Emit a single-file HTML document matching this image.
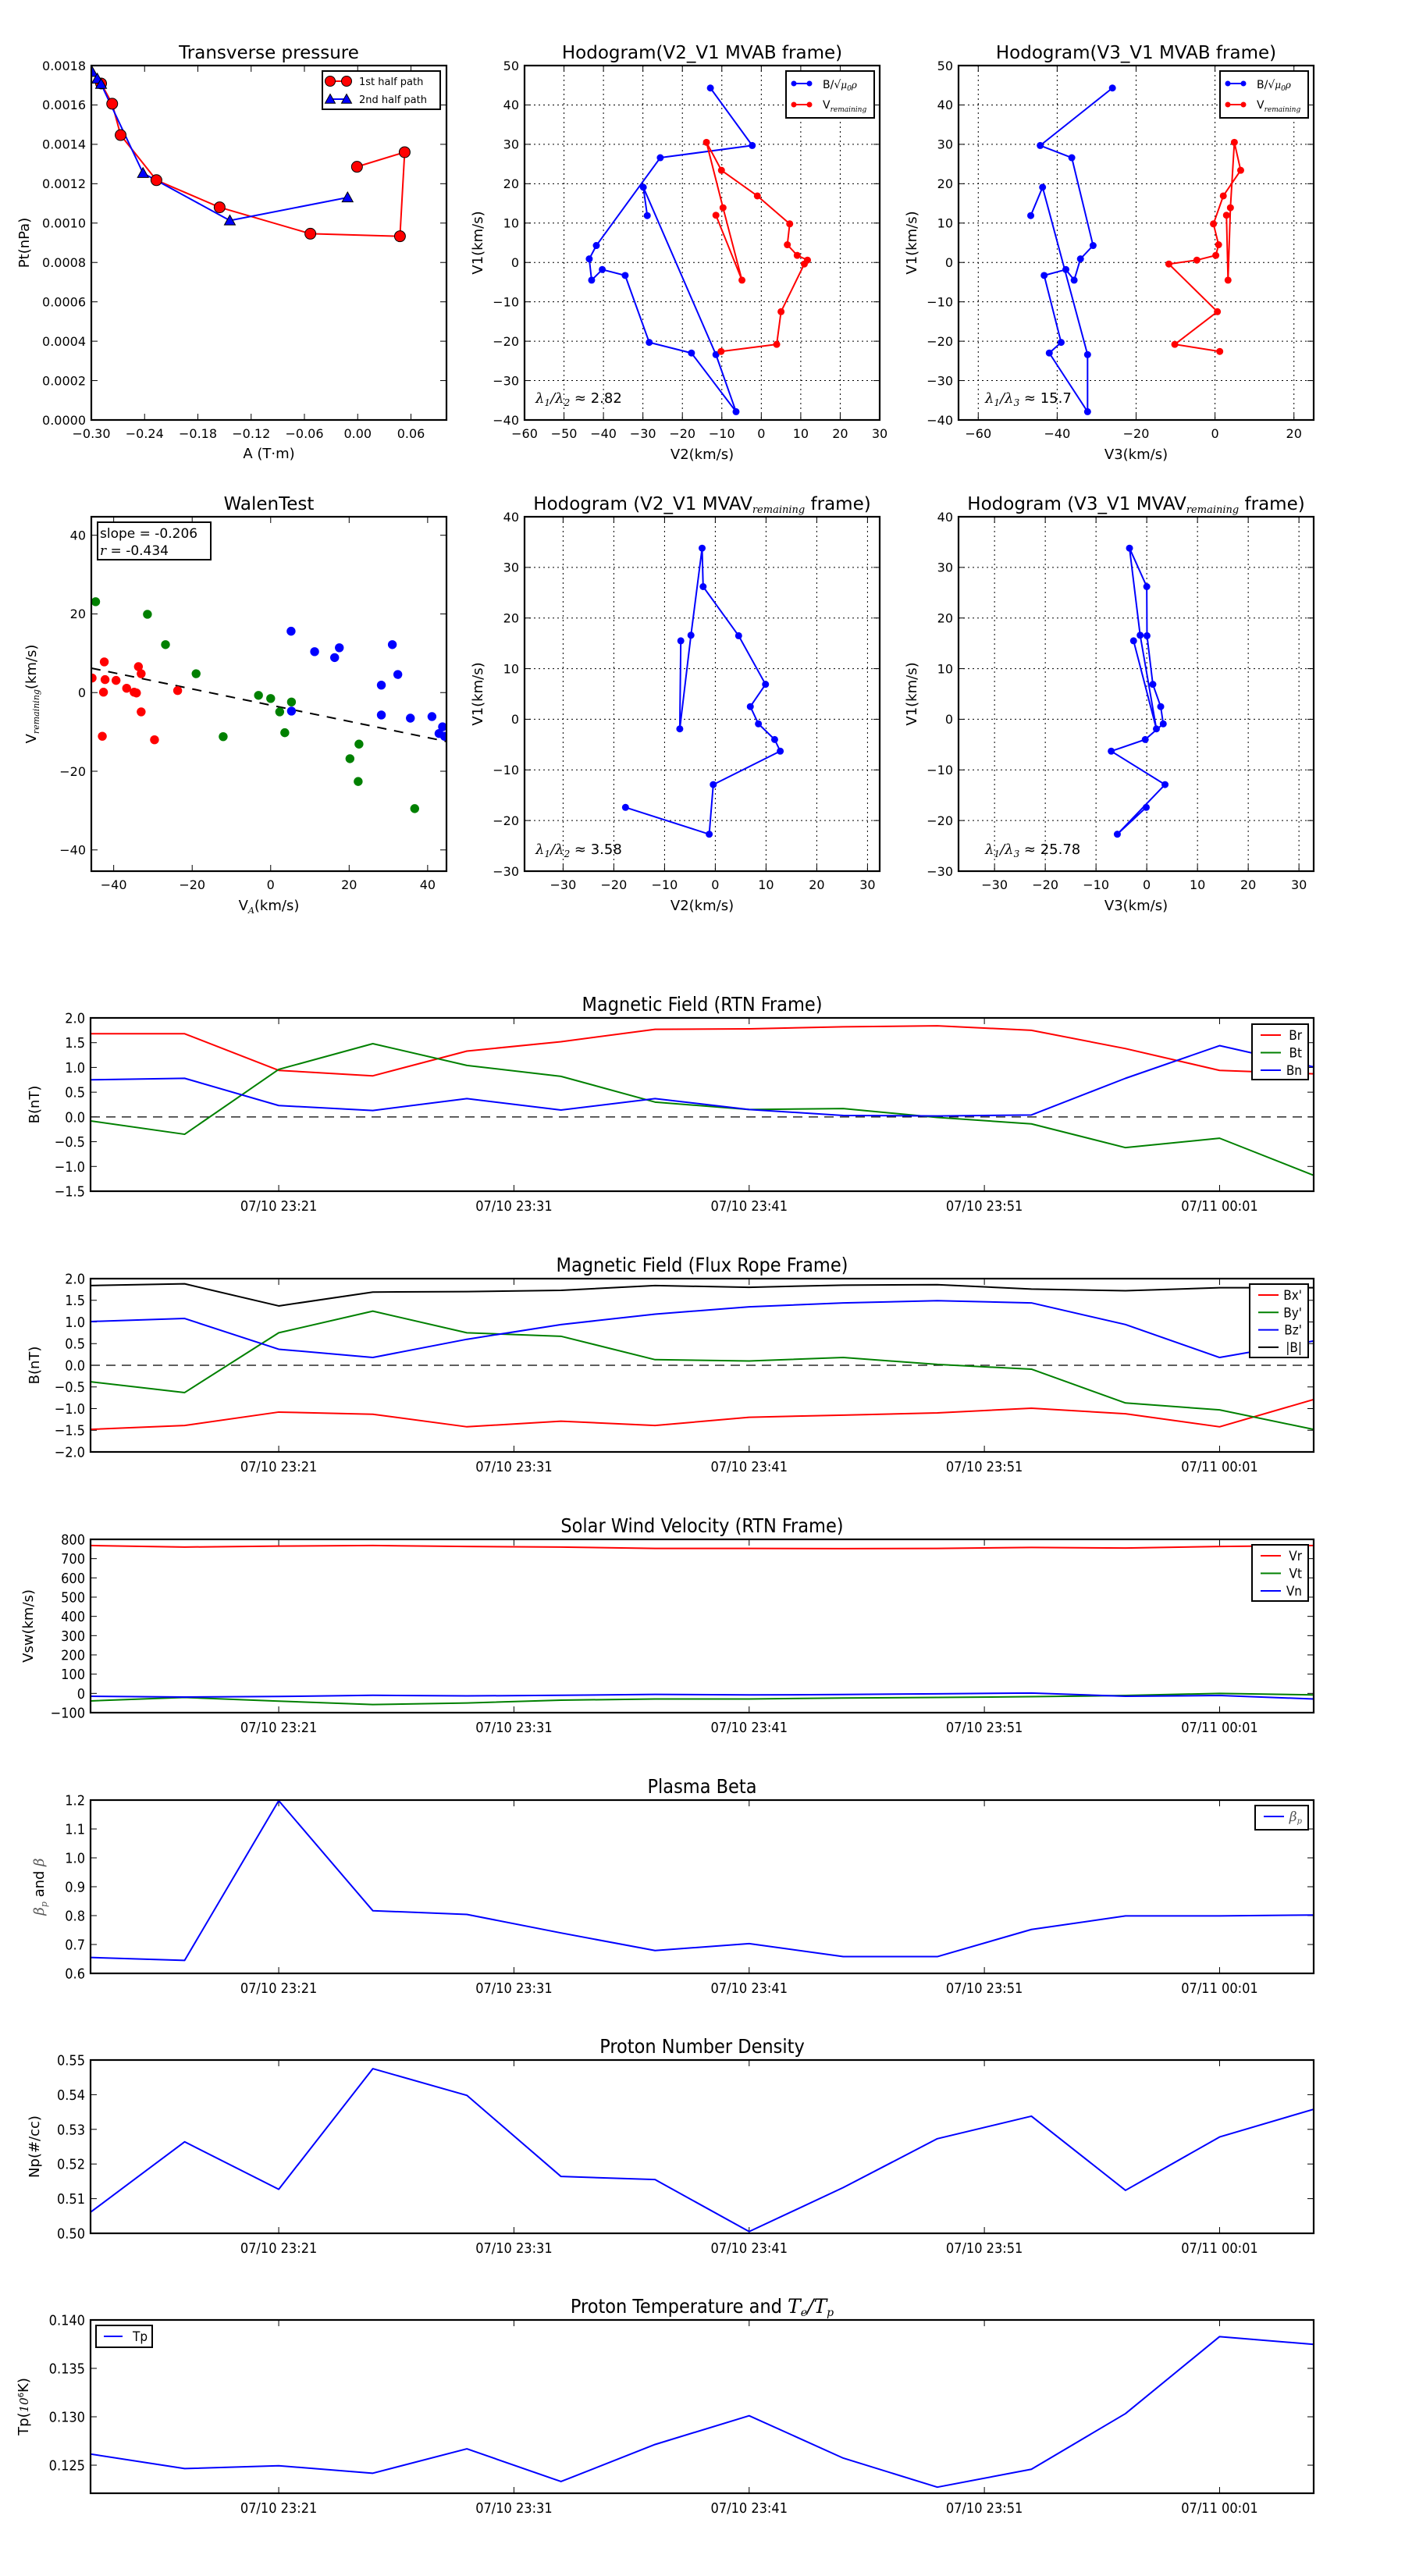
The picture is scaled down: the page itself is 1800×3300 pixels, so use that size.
<!DOCTYPE html>
<html><head><meta charset="utf-8"><title>Flux rope analysis</title>
<style>
html,body{margin:0;padding:0;background:#fff;}
svg{display:block;}
text{font-family:"DejaVu Sans","Liberation Sans",sans-serif;fill:#000;}
.cond{font-family:"DejaVu Sans Condensed","DejaVu Sans","Liberation Sans",sans-serif;}
.math{font-family:"DejaVu Serif","Liberation Serif",serif;font-style:italic;}
</style></head>
<body>
<svg id="fig" xmlns="http://www.w3.org/2000/svg" width="1800" height="3300" viewBox="0 0 1800 3300">
<rect x="0" y="0" width="1800" height="3300" fill="#fff"></rect>
</svg>
<script>
// ---------- data ----------
const tpRedA = [-0.289,-0.2765,-0.267,-0.2267,-0.1555,-0.0533,0.0476,0.0529,-0.0008];
const tpRedP = [0.001709,0.001606,0.001447,0.001218,0.00108,0.000946,0.000933,0.00136,0.001286];
const tpBlueA = [-0.299,-0.2933,-0.289,-0.2418,-0.144,-0.0114];
const tpBlueP = [0.001767,0.001733,0.001706,0.001254,0.001013,0.00113];

const mvabBlueV1 = [44.3,29.7,26.6,4.3,0.9,-4.5,-1.8,-3.3,-20.3,-23.0,-37.9,-23.4,19.1,11.9];
const mvabBlueV2 = [-12.9,-2.3,-25.6,-41.8,-43.6,-43.0,-40.3,-34.5,-28.4,-17.7,-6.4,-11.5,-29.9,-28.9];
const mvabBlueV3 = [-26.0,-44.3,-36.3,-30.9,-34.1,-35.7,-37.8,-43.3,-39.0,-42.0,-32.3,-32.3,-43.7,-46.7];
const mvabRedV1 = [12.0,-4.5,13.9,30.5,23.4,16.9,9.8,4.5,1.8,0.6,-0.4,-12.5,-20.8,-22.6];
const mvabRedV2 = [-11.5,-4.9,-9.7,-13.9,-10.1,-1.0,7.2,6.6,9.1,11.7,10.9,5.0,3.9,-10.2];
const mvabRedV3 = [2.9,3.3,3.9,4.9,6.5,2.1,-0.4,0.9,0.2,-4.6,-11.7,0.6,-10.2,1.2];
const mvabRatio12 = "2.82";
const mvabRatio13 = "15.7";

const walRedX = [-45.5,-42.4,-42.2,-42.6,-42.9,-39.4,-36.7,-34.8,-34.2,-33.7,-33.0,-33.0,-29.6,-23.7];
const walRedY = [3.7,7.8,3.3,0.1,-11.1,3.1,1.1,0.1,-0.1,6.6,4.8,-4.9,-12.0,0.5];
const walGreenX = [-44.6,-31.4,-26.8,-19.0,-12.1,-3.1,0.0,2.3,3.6,5.3,20.2,22.5,22.3,36.7];
const walGreenY = [23.1,19.9,12.2,4.8,-11.2,-0.7,-1.5,-4.9,-10.2,-2.4,-16.8,-13.1,-22.6,-29.5];
const walBlueX = [5.2,5.3,11.2,16.3,17.5,28.2,28.2,31.0,32.4,35.6,41.1,42.9,43.8,44.3];
const walBlueY = [15.6,-4.7,10.4,8.9,11.4,1.9,-5.7,12.2,4.6,-6.5,-6.1,-10.4,-8.7,-11.1];
const walSlope = -0.206;
const walIntercept = -3.2;
const walR = -0.434;

const mvavV1 = [15.5,-1.9,16.6,33.8,26.2,16.5,6.9,2.5,-0.9,-4.0,-6.3,-12.9,-22.7,-17.4];
const mvavV2 = [-6.8,-7.0,-4.8,-2.6,-2.4,4.6,9.9,6.9,8.5,11.7,12.8,-0.4,-1.2,-17.7];
const mvavV3 = [-2.6,1.9,-1.3,-3.4,0.0,0.05,1.2,2.75,3.25,-0.3,-7.0,3.6,-5.8,-0.1];
const mvavRatio12 = "3.58";
const mvavRatio13 = "25.78";

// time in minutes after 07/10 23:13
const timeMin = [0,4,8,12,16,20,24,28,32,36,40,44,48,52];
const timeTickMin = [8,18,28,38,48];
const timeTickLabels = ["07/10 23:21","07/10 23:31","07/10 23:41","07/10 23:51","07/11 00:01"];

const br = [1.68,1.68,0.94,0.83,1.33,1.52,1.77,1.78,1.82,1.84,1.75,1.38,0.94,0.87];
const bt = [-0.08,-0.35,0.96,1.48,1.04,0.82,0.30,0.15,0.17,-0.01,-0.14,-0.62,-0.43,-1.18];
const bn = [0.75,0.78,0.23,0.13,0.37,0.14,0.37,0.15,0.03,0.02,0.04,0.78,1.44,1.01];

const bxp = [-1.48,-1.39,-1.08,-1.13,-1.42,-1.29,-1.39,-1.2,-1.15,-1.1,-0.99,-1.12,-1.42,-0.79];
const byp = [-0.38,-0.63,0.75,1.25,0.75,0.67,0.13,0.10,0.18,0.02,-0.09,-0.87,-1.03,-1.48];
const bzp = [1.01,1.08,0.37,0.18,0.60,0.94,1.18,1.35,1.44,1.49,1.44,0.94,0.18,0.56];
const bmag = [1.84,1.88,1.37,1.69,1.70,1.73,1.84,1.80,1.85,1.86,1.76,1.72,1.79,1.79];

const vr = [768,760,765,768,763,760,753,753,752,753,758,755,763,768];
const vt = [-39,-21,-40,-58,-50,-35,-29,-29,-24,-21,-17,-11,0,-8];
const vn = [-15,-19,-16,-10,-13,-10,-5,-8,-6,-2,2,-15,-11,-29];

const betaP = [0.655,0.645,1.198,0.817,0.804,0.74,0.679,0.703,0.658,0.658,0.752,0.799,0.799,0.802];
const npDens = [0.5061,0.5264,0.5127,0.5475,0.5398,0.5164,0.5155,0.5005,0.5132,0.5273,0.5338,0.5124,0.5278,0.5358];
const tpTemp = [0.12615,0.12465,0.12494,0.12417,0.12669,0.12331,0.12714,0.13011,0.12573,0.12273,0.12458,0.13033,0.13828,0.13748];

// ---------- helpers ----------
const NS = "http://www.w3.org/2000/svg";
const fig = document.getElementById("fig");
let clipId = 0;
function mk(tagName, parent, at) {
  const e = document.createElementNS(NS, tagName);
  for (const k in at) e.setAttribute(k, at[k]);
  parent.appendChild(e);
  return e;
}
function nameIt(e, name) {
  
  
}
function txt(parent, x, y, s, at, name) {
  const t = mk("text", parent, Object.assign({x: x, y: y}, at || {}));
  t.textContent = s;
  nameIt(t, name);
  return t;
}
function fmtNum(v, d) {
  const s = Math.abs(v).toFixed(d);
  return (v < -1e-12 ? "\u2212" : "") + s;
}
function range(a, b, step) {
  const out = [];
  for (let v = a; v <= b + step * 1e-6; v += step) out.push(Math.round(v / step) * step);
  return out;
}

function axes(o) {
  const g = mk("g", fig, {});
  nameIt(g, o.name);
  const sx = v => o.x0 + (v - o.xmin) / (o.xmax - o.xmin) * o.w;
  const sy = v => o.y0 + o.h - (v - o.ymin) / (o.ymax - o.ymin) * o.h;
  const cls = o.cond ? "cond" : "";
  const fs = o.fs || 16;
  if (o.grid) {
    const gg = mk("g", g, {stroke: "#000", "stroke-width": 1, "stroke-dasharray": "2,4"});
    nameIt(gg, o.name + "-grid");
    o.xt.forEach(v => { const l = mk("line", gg, {x1: sx(v), x2: sx(v), y1: o.y0, y2: o.y0 + o.h}); nameIt(l, "grid-line-x"); });
    o.yt.forEach(v => { const l = mk("line", gg, {y1: sy(v), y2: sy(v), x1: o.x0, x2: o.x0 + o.w}); nameIt(l, "grid-line-y"); });
  }
  const tg = mk("g", g, {stroke: "#000", "stroke-width": 1});
  nameIt(tg, o.name + "-ticks");
  o.xt.forEach(v => {
    const a = mk("line", tg, {x1: sx(v), x2: sx(v), y1: o.y0 + o.h, y2: o.y0 + o.h - 8}); nameIt(a, "x-tick");
    const b = mk("line", tg, {x1: sx(v), x2: sx(v), y1: o.y0, y2: o.y0 + 8}); nameIt(b, "x-tick-top");
  });
  o.yt.forEach(v => {
    const a = mk("line", tg, {y1: sy(v), y2: sy(v), x1: o.x0, x2: o.x0 + 8}); nameIt(a, "y-tick");
    const b = mk("line", tg, {y1: sy(v), y2: sy(v), x1: o.x0 + o.w, x2: o.x0 + o.w - 8}); nameIt(b, "y-tick-right");
  });
  o.xt.forEach((v, i) => txt(g, sx(v), o.y0 + o.h + fs + 7, o.xl[i], {"text-anchor": "middle", "font-size": fs, class: cls}, "x-tick-label"));
  o.yt.forEach((v, i) => txt(g, o.x0 - 7, sy(v) + fs * 0.36, o.yl[i], {"text-anchor": "end", "font-size": fs, class: cls}, "y-tick-label"));
  if (o.title) {
    const t = txt(g, o.x0 + o.w / 2, o.y0 - 9, "", {"text-anchor": "middle", "font-size": o.tfs || 23, class: cls}, "chart-title");
    o.title(t);
  }
  if (o.xlabel) {
    const t = txt(g, o.x0 + o.w / 2, o.y0 + o.h + 52, "", {"text-anchor": "middle", "font-size": 18}, "x-axis-title");
    o.xlabel(t);
  }
  if (o.ylabel) {
    const t = txt(g, 0, 0, "", {"text-anchor": "middle", "font-size": o.ylfs || 18, transform: "translate(" + o.ylx + "," + (o.y0 + o.h / 2) + ") rotate(-90)"}, "y-axis-title");
    o.ylabel(t);
  }
  const cid = "clip" + (clipId++);
  const cp = mk("clipPath", g, {id: cid});
  mk("rect", cp, {x: o.x0, y: o.y0, width: o.w, height: o.h});
  const plot = mk("g", g, {"clip-path": "url(#" + cid + ")"});
  nameIt(plot, o.name + "-plot-area");
  function finish() {
    const r = mk("rect", g, {x: o.x0, y: o.y0, width: o.w, height: o.h, fill: "none", stroke: "#000", "stroke-width": 2.2});
    nameIt(r, o.name + "-frame");
  }
  return {g, plot, sx, sy, finish};
}
function span(t, s, at) {
  const e = mk("tspan", t, at || {});
  e.textContent = s;
  return e;
}
function line(ax, xs, ys, color, name, w) {
  const pts = xs.map((x, i) => ax.sx(x).toFixed(2) + "," + ax.sy(ys[i]).toFixed(2)).join(" ");
  const p = mk("polyline", ax.plot, {points: pts, fill: "none", stroke: color, "stroke-width": w || 2, "stroke-linejoin": "round"});
  nameIt(p, name);
  return p;
}
function dots(ax, xs, ys, color, r, name, edge) {
  xs.forEach((x, i) => {
    const c = mk("circle", ax.plot, {cx: ax.sx(x), cy: ax.sy(ys[i]), r: r, fill: color, stroke: edge || color, "stroke-width": edge ? 1 : 0});
    nameIt(c, name);
  });
}
function tris(ax, xs, ys, color, s, name) {
  xs.forEach((x, i) => {
    const cx = ax.sx(x), cy = ax.sy(ys[i]);
    const p = mk("path", ax.plot, {d: "M" + cx + "," + (cy - s) + " L" + (cx + s) + "," + (cy + s * 0.8) + " L" + (cx - s) + "," + (cy + s * 0.8) + "Z", fill: color, stroke: "#000", "stroke-width": 1});
    nameIt(p, name);
  });
}
function legendBox(parent, x, y, w, h, name) {
  const g = mk("g", parent, {});
  nameIt(g, name);
  const r = mk("rect", g, {x: x, y: y, width: w, height: h, fill: "#fff", stroke: "#000", "stroke-width": 2});
  nameIt(r, "legend-frame");
  return g;
}
function legLine(g, x1, x2, y, color, name, marker, mr) {
  const l = mk("line", g, {x1: x1, x2: x2, y1: y, y2: y, stroke: color, "stroke-width": 2});
  nameIt(l, name + "-swatch");
  if (marker === "circle") {
    [x1, x2].forEach(xx => { const c = mk("circle", g, {cx: xx, cy: y, r: mr, fill: color, stroke: mr > 5 ? "#000" : color, "stroke-width": mr > 5 ? 1 : 0}); nameIt(c, name + "-marker"); });
  } else if (marker === "tri") {
    [x1, x2].forEach(xx => { const p = mk("path", g, {d: "M" + xx + "," + (y - mr) + " L" + (xx + mr) + "," + (y + mr * 0.8) + " L" + (xx - mr) + "," + (y + mr * 0.8) + "Z", fill: color, stroke: "#000", "stroke-width": 1}); nameIt(p, name + "-marker"); });
  }
}
function ratioText(parent, x, y, b, val, name) {
  const t = txt(parent, x, y, "", {"font-size": 18}, name);
  span(t, "\u03BB", {class: "math"});
  span(t, "1", {"font-size": 12, dy: 4, class: "math"});
  span(t, "/", {dy: -4, class: "math"});
  span(t, "\u03BB", {class: "math"});
  span(t, b, {"font-size": 12, dy: 4, class: "math"});
  span(t, " \u2248 " + val, {dy: -4});
}
function remSub(t, sz) {
  span(t, "remaining", {class: "math", "font-size": sz, dy: 4});
}

// ---------- Row 1 ----------
const R1Y = 84, PH = 454, PW = 455;
const COLX = [117, 672, 1228];

(function () {
  const xt = range(-0.30, 0.06, 0.06), yt = range(0, 0.0018, 0.0002);
  const ax = axes({name: "transverse-pressure-chart", x0: COLX[0], y0: R1Y, w: PW, h: PH, xmin: -0.30, xmax: 0.10, ymin: 0, ymax: 0.0018,
    xt: xt, yt: yt, xl: xt.map(v => fmtNum(v, 2)), yl: yt.map(v => fmtNum(v, 4)), fs: 16, ylx: 37,
    title: t => { t.textContent = "Transverse pressure"; },
    xlabel: t => { t.textContent = "A (T\u00B7m)"; t.setAttribute("y", R1Y + PH + 49); },
    ylabel: t => { t.textContent = "Pt(nPa)"; }});
  line(ax, tpRedA, tpRedP, "#ff0000", "first-half-path-line", 2);
  line(ax, tpBlueA, tpBlueP, "#0000ff", "second-half-path-line", 2);
  dots(ax, tpRedA, tpRedP, "#ff0000", 7, "first-half-path-point", "#000");
  tris(ax, tpBlueA, tpBlueP, "#0000ff", 7, "second-half-path-point");
  ax.finish();
  const lg = legendBox(ax.g, 413, 91, 151, 49, "pressure-legend");
  legLine(lg, 423, 444, 104, "#ff0000", "legend-first-half", "circle", 6.5);
  txt(lg, 460, 109, "1st half path", {"font-size": 13}, "legend-first-half-label");
  legLine(lg, 423, 444, 127, "#0000ff", "legend-second-half", "tri", 6.5);
  txt(lg, 460, 132, "2nd half path", {"font-size": 13}, "legend-second-half-label");
})();

function hodogram(cfg) {
  const ax = axes({name: cfg.name, x0: cfg.x0, y0: cfg.y0, w: PW, h: PH, xmin: cfg.xmin, xmax: cfg.xmax, ymin: cfg.ymin, ymax: cfg.ymax,
    xt: cfg.xt, yt: cfg.yt, xl: cfg.xt.map(v => fmtNum(v, 0)), yl: cfg.yt.map(v => fmtNum(v, 0)), fs: 16, grid: true, ylx: cfg.x0 - 54,
    title: cfg.title,
    xlabel: t => { t.textContent = cfg.xlab; t.setAttribute("y", cfg.y0 + PH + 50); },
    ylabel: t => { t.textContent = "V1(km/s)"; }});
  cfg.series.forEach(s => {
    line(ax, s.x, s.y, s.color, s.name + "-line", 2);
    dots(ax, s.x, s.y, s.color, 4.5, s.name + "-point");
  });
  ax.finish();
  if (cfg.legend) {
    const lx = cfg.x0 + PW - 120;
    const lg = legendBox(ax.g, lx, cfg.y0 + 7, 113, 60, cfg.name + "-legend");
    legLine(lg, lx + 10, lx + 30, cfg.y0 + 23, "#0000ff", "legend-b-alfven", "circle", 3.5);
    const t1 = txt(lg, lx + 47, cfg.y0 + 29, "B/", {"font-size": 14}, "legend-b-alfven-label");
    span(t1, "\u221A", {});
    span(t1, "\u03BC", {class: "math", "font-size": 12});
    span(t1, "0", {class: "math", "font-size": 9, dy: 3});
    span(t1, "\u03C1", {class: "math", "font-size": 12, dy: -3});
    legLine(lg, lx + 10, lx + 30, cfg.y0 + 50, "#ff0000", "legend-v-remaining", "circle", 3.5);
    const t2 = txt(lg, lx + 47, cfg.y0 + 55, "V", {"font-size": 14}, "legend-v-remaining-label");
    remSub(t2, 9);
  }
  ratioText(ax.g, cfg.x0 + cfg.rx, cfg.y0 + PH - 22, cfg.sub, cfg.ratio, cfg.name + "-eigen-ratio");
  return ax;
}

hodogram({name: "hodogram-v2-v1-mvab", x0: COLX[1], y0: R1Y, xmin: -60, xmax: 30, ymin: -40, ymax: 50, rx: 14,
  xt: range(-60, 30, 10), yt: range(-40, 50, 10), xlab: "V2(km/s)", sub: "2", ratio: mvabRatio12, legend: true,
  title: t => { t.textContent = "Hodogram(V2_V1 MVAB frame)"; },
  series: [{x: mvabBlueV2, y: mvabBlueV1, color: "#0000ff", name: "b-alfven-series"}, {x: mvabRedV2, y: mvabRedV1, color: "#ff0000", name: "v-remaining-series"}]});

hodogram({name: "hodogram-v3-v1-mvab", x0: COLX[2], y0: R1Y, xmin: -65, xmax: 25, ymin: -40, ymax: 50, rx: 34,
  xt: range(-60, 20, 20), yt: range(-40, 50, 10), xlab: "V3(km/s)", sub: "3", ratio: mvabRatio13, legend: true,
  title: t => { t.textContent = "Hodogram(V3_V1 MVAB frame)"; },
  series: [{x: mvabBlueV3, y: mvabBlueV1, color: "#0000ff", name: "b-alfven-series"}, {x: mvabRedV3, y: mvabRedV1, color: "#ff0000", name: "v-remaining-series"}]});

// ---------- Row 2 ----------
const R2Y = 662;
(function () {
  const xt = range(-40, 40, 20), yt = range(-40, 40, 20);
  const ax = axes({name: "walen-test-chart", x0: COLX[0], y0: R2Y, w: PW, h: PH, xmin: -45.7, xmax: 44.8, ymin: -45.4, ymax: 44.7,
    xt: xt, yt: yt, xl: xt.map(v => fmtNum(v, 0)), yl: yt.map(v => fmtNum(v, 0)), fs: 16, ylx: 46,
    title: t => { t.textContent = "WalenTest"; },
    xlabel: t => { t.textContent = "V"; t.setAttribute("y", R2Y + PH + 50); span(t, "A", {class: "math", "font-size": 11, dy: 4}); span(t, "(km/s)", {dy: -4}); },
    ylabel: t => { t.textContent = "V"; remSub(t, 11); span(t, "(km/s)", {dy: -4}); }});
  const fx = [-45.7, 44.8];
  const fl = mk("polyline", ax.plot, {points: fx.map(x => ax.sx(x) + "," + ax.sy(walSlope * x + walIntercept)).join(" "), fill: "none", stroke: "#000", "stroke-width": 2, "stroke-dasharray": "12,10"});
  nameIt(fl, "walen-fit-line");
  dots(ax, walRedX, walRedY, "#ff0000", 5.7, "walen-red-point");
  dots(ax, walGreenX, walGreenY, "#008000", 5.7, "walen-green-point");
  dots(ax, walBlueX, walBlueY, "#0000ff", 5.7, "walen-blue-point");
  ax.finish();
  const bx = mk("g", ax.g, {});
  nameIt(bx, "walen-stats-box");
  const r = mk("rect", bx, {x: 125, y: 669, width: 145, height: 48, fill: "#fff", stroke: "#000", "stroke-width": 2});
  nameIt(r, "stats-frame");
  txt(bx, 128, 689, "slope = " + walSlope.toFixed(3), {"font-size": 17}, "slope-label");
  const t2 = txt(bx, 128, 711, "", {"font-size": 17}, "r-label");
  span(t2, "r", {class: "math"});
  span(t2, " = " + walR.toFixed(3), {});
})();

hodogram({name: "hodogram-v2-v1-mvav", x0: COLX[1], y0: R2Y, xmin: -37.6, xmax: 32.4, ymin: -30, ymax: 40, rx: 14,
  xt: range(-30, 30, 10), yt: range(-30, 40, 10), xlab: "V2(km/s)", sub: "2", ratio: mvavRatio12, legend: false,
  title: t => { t.textContent = "Hodogram (V2_V1 MVAV"; remSub(t, 13); span(t, " frame)", {dy: -4}); },
  series: [{x: mvavV2, y: mvavV1, color: "#0000ff", name: "mvav-series"}]});

hodogram({name: "hodogram-v3-v1-mvav", x0: COLX[2], y0: R2Y, xmin: -37.1, xmax: 32.9, ymin: -30, ymax: 40, rx: 34,
  xt: range(-30, 30, 10), yt: range(-30, 40, 10), xlab: "V3(km/s)", sub: "3", ratio: mvavRatio13, legend: false,
  title: t => { t.textContent = "Hodogram (V3_V1 MVAV"; remSub(t, 13); span(t, " frame)", {dy: -4}); },
  series: [{x: mvavV3, y: mvavV1, color: "#0000ff", name: "mvav-series"}]});

// ---------- time series ----------
const TSX = 116, TSW = 1567, TSH = 222;
function tsPanel(cfg) {
  const yl = cfg.yt.map(v => fmtNum(v, cfg.yd));
  const ax = axes({name: cfg.name, x0: TSX, y0: cfg.y0, w: TSW, h: TSH, xmin: 0, xmax: 52, ymin: cfg.ymin, ymax: cfg.ymax,
    xt: timeTickMin, yt: cfg.yt, xl: timeTickLabels, yl: yl, fs: 18, cond: true, tfs: 25, ylx: cfg.ylx, ylfs: 18,
    title: cfg.title, ylabel: cfg.ylabel});
  if (cfg.zero) {
    const z = mk("line", ax.plot, {x1: TSX, x2: TSX + TSW, y1: ax.sy(0), y2: ax.sy(0), stroke: "#000", "stroke-width": 1.2, "stroke-dasharray": "12,8"});
    nameIt(z, "zero-line");
  }
  cfg.series.forEach(s => line(ax, timeMin, s.v, s.color, s.name, 2));
  ax.finish();
  if (cfg.legend) {
    const L = cfg.legend;
    const lg = legendBox(ax.g, L.x, L.y, L.w, L.h, cfg.name + "-legend");
    cfg.series.forEach((s, i) => {
      const yy = L.y + 14 + i * L.step;
      legLine(lg, L.x + 11, L.x + 37, yy, s.color, "legend-" + s.name);
      const t = txt(lg, L.x + L.w - 8, yy + 6, "", {"font-size": 17, "text-anchor": "end", class: "cond"}, "legend-" + s.name + "-label");
      if (s.label) t.textContent = s.label; else s.labelFn(t);
    });
  }
  return ax;
}

tsPanel({name: "magnetic-field-rtn-chart", y0: 1304, ymin: -1.5, ymax: 2.0, yt: range(-1.5, 2.0, 0.5), yd: 1, zero: true, ylx: 50,
  title: t => { t.textContent = "Magnetic Field (RTN Frame)"; },
  ylabel: t => { t.textContent = "B(nT)"; },
  legend: {x: 1604, y: 1312, w: 72, h: 71, step: 22.5},
  series: [{v: br, color: "#ff0000", name: "br-line", label: "Br"}, {v: bt, color: "#008000", name: "bt-line", label: "Bt"}, {v: bn, color: "#0000ff", name: "bn-line", label: "Bn"}]});

tsPanel({name: "magnetic-field-flux-rope-chart", y0: 1638, ymin: -2.0, ymax: 2.0, yt: range(-2.0, 2.0, 0.5), yd: 1, zero: true, ylx: 50,
  title: t => { t.textContent = "Magnetic Field (Flux Rope Frame)"; },
  ylabel: t => { t.textContent = "B(nT)"; },
  legend: {x: 1601, y: 1645, w: 75, h: 94, step: 22.3},
  series: [{v: bxp, color: "#ff0000", name: "bx-prime-line", label: "Bx'"}, {v: byp, color: "#008000", name: "by-prime-line", label: "By'"}, {v: bzp, color: "#0000ff", name: "bz-prime-line", label: "Bz'"}, {v: bmag, color: "#000000", name: "b-magnitude-line", label: "|B|"}]});

tsPanel({name: "solar-wind-velocity-chart", y0: 1972, ymin: -100, ymax: 800, yt: range(-100, 800, 100), yd: 0, ylx: 42,
  title: t => { t.textContent = "Solar Wind Velocity (RTN Frame)"; },
  ylabel: t => { t.textContent = "Vsw(km/s)"; },
  legend: {x: 1604, y: 1979, w: 72, h: 72, step: 22.5},
  series: [{v: vr, color: "#ff0000", name: "vr-line", label: "Vr"}, {v: vt, color: "#008000", name: "vt-line", label: "Vt"}, {v: vn, color: "#0000ff", name: "vn-line", label: "Vn"}]});

tsPanel({name: "plasma-beta-chart", y0: 2306, ymin: 0.6, ymax: 1.2, yt: range(0.6, 1.2, 0.1), yd: 1, ylx: 56,
  title: t => { t.textContent = "Plasma Beta"; },
  ylabel: t => { span(t, "\u03B2", {class: "math", fill: "#555"}); span(t, "p", {class: "math", "font-size": 11, dy: 4, fill: "#555"}); span(t, " and ", {dy: -4}); span(t, "\u03B2", {class: "math", fill: "#555"}); },
  legend: {x: 1608, y: 2313, w: 68, h: 31, step: 0},
  series: [{v: betaP, color: "#0000ff", name: "beta-p-line", labelFn: t => { span(t, "\u03B2", {class: "math", fill: "#555"}); span(t, "p", {class: "math", "font-size": 10, dy: 3, fill: "#555"}); }}]});

tsPanel({name: "proton-density-chart", y0: 2639, ymin: 0.50, ymax: 0.55, yt: range(0.50, 0.55, 0.01), yd: 2, ylx: 50,
  title: t => { t.textContent = "Proton Number Density"; },
  ylabel: t => { t.textContent = "Np(#/cc)"; }, legend: null,
  series: [{v: npDens, color: "#0000ff", name: "np-line"}]});

(function () {
  const ax = tsPanel({name: "proton-temperature-chart", y0: 2972, ymin: 0.1221, ymax: 0.140, yt: range(0.125, 0.140, 0.005), yd: 3, ylx: 36,
    title: t => { t.textContent = "Proton Temperature and "; span(t, "T", {class: "math"}); span(t, "e", {class: "math", "font-size": 14, dy: 4}); span(t, "/", {class: "math", dy: -4}); span(t, "T", {class: "math"}); span(t, "p", {class: "math", "font-size": 14, dy: 4}); },
    ylabel: t => { t.textContent = "Tp("; span(t, "10", {class: "math", "font-size": 15}); span(t, "6", {"font-size": 10, dy: -6}); span(t, "K)", {dy: 6}); },
    legend: null, series: [{v: tpTemp, color: "#0000ff", name: "tp-line"}]});
  const lg = legendBox(ax.g, 123, 2979, 72, 28, "temperature-legend");
  legLine(lg, 133, 157, 2993, "#0000ff", "legend-tp");
  txt(lg, 170, 2999, "Tp", {"font-size": 17, class: "cond"}, "legend-tp-label");
})();
</script>
</body></html>
